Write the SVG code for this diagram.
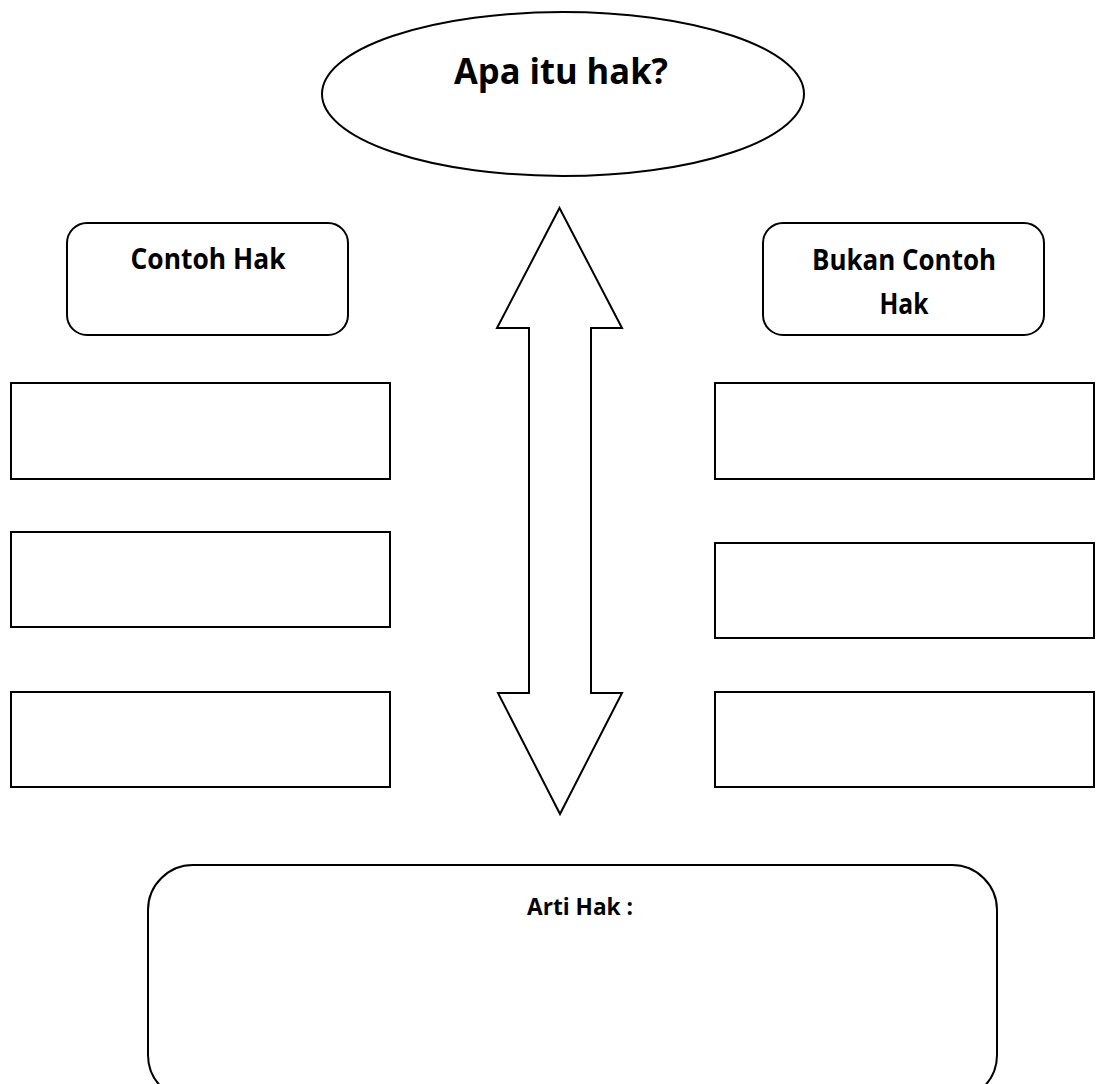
<svg xmlns="http://www.w3.org/2000/svg" width="1096" height="1084" viewBox="0 0 1096 1084">
<style>
.s{fill:#fff;stroke:#000;stroke-width:2}
.t{font-family:"Open Sans","Noto Sans","Liberation Sans",sans-serif;font-weight:700;fill:#000;text-anchor:middle}
</style>
<rect width="1096" height="1084" fill="#fff"/>
<g id="title">
<ellipse class="s" cx="563" cy="94" rx="241" ry="82"/>
<text class="t" x="561" y="84" font-size="36" textLength="214" lengthAdjust="spacingAndGlyphs">Apa itu hak?</text>
</g>
<g id="connectors">
<polygon class="s" points="559.5,208 622,328 591,328 591,693 622,693 560,814 498,693 529,693 529,328 497,328"/>
</g>
<g id="contoh">
<rect class="s" x="67" y="223" width="281" height="112" rx="20"/>
<text class="t" x="208" y="269" font-size="28" textLength="155" lengthAdjust="spacingAndGlyphs">Contoh Hak</text>
</g>
<g id="bukan">
<rect class="s" x="763" y="223" width="281" height="112" rx="20"/>
<text class="t" x="904" y="270" font-size="28" textLength="184" lengthAdjust="spacingAndGlyphs">Bukan Contoh</text>
<text class="t" x="904" y="314" font-size="28" textLength="49" lengthAdjust="spacingAndGlyphs">Hak</text>
</g>
<g id="l1"><rect class="s" x="11" y="383" width="379" height="96"/></g>
<g id="l2"><rect class="s" x="11" y="532" width="379" height="95"/></g>
<g id="l3"><rect class="s" x="11" y="692" width="379" height="95"/></g>
<g id="r1"><rect class="s" x="715" y="383" width="379" height="96"/></g>
<g id="r2"><rect class="s" x="715" y="543" width="379" height="95"/></g>
<g id="r3"><rect class="s" x="715" y="692" width="379" height="95"/></g>
<g id="arti">
<rect class="s" x="148" y="865" width="849" height="235" rx="45"/>
<text class="t" x="580" y="915" font-size="23" textLength="106" lengthAdjust="spacingAndGlyphs">Arti Hak :</text>
</g>
</svg>
